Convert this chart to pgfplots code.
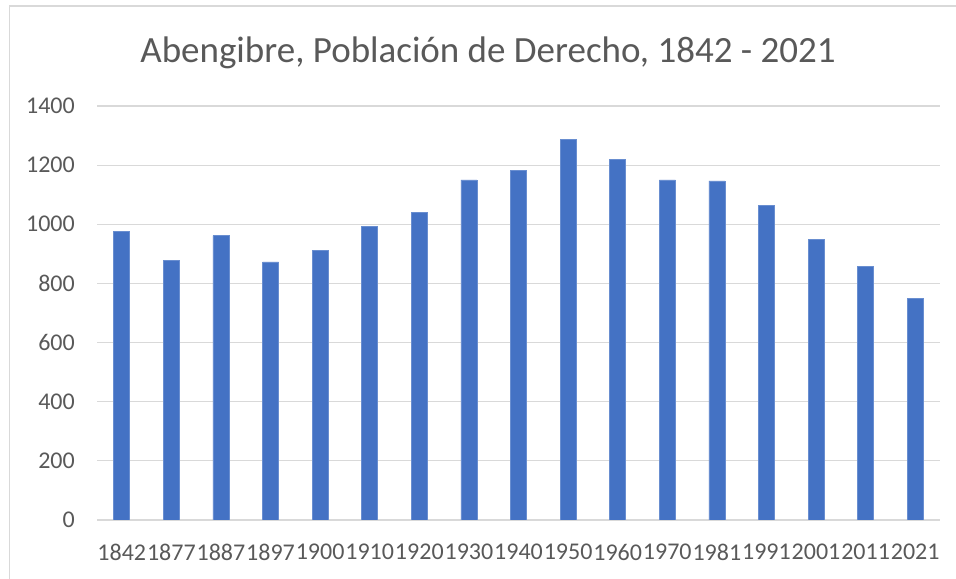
\documentclass[border=0pt]{standalone}
\usepackage{pgfplots}
\pgfplotsset{compat=1.18}
\usepackage{fontspec}
\setmainfont{Carlito}
\definecolor{barblue}{HTML}{4472C4}
\definecolor{txtgrey}{HTML}{595959}
\definecolor{gridgrey}{HTML}{D9D9D9}
\begin{document}
\begin{tikzpicture}
\useasboundingbox (0,0) rectangle (956bp,579bp);
\draw[gridgrey, line width=1.2bp] (9.5bp,0) -- (9.5bp,573bp) -- (956bp,573bp);
\node[anchor=base, text=txtgrey, inner sep=0, font=\fontsize{37bp}{44bp}\selectfont] at (488bp,516bp) {Abengibre, Población de Derecho, 1842 - 2021};
\begin{axis}[
  at={(97bp,59bp)}, anchor=south west,
  scale only axis, width=843bp, height=414bp,
  xmin=-0.5, xmax=16.5, ymin=0, ymax=1400,
  ytick={0,200,400,600,800,1000,1200,1400},
  xtick={0,...,16},
  xticklabels={1842,1877,1887,1897,1900,1910,1920,1930,1940,1950,1960,1970,1981,1991,2001,2011,2021},
  ymajorgrids, grid style={gridgrey, line width=1.2bp},
  axis line style={draw=none},
  major tick length=0,
  /pgf/number format/assume math mode=true,
  /pgf/number format/1000 sep={},
  yticklabel style={font=\fontsize{24bp}{28bp}\selectfont, text=txtgrey, anchor=east, inner sep=0, xshift=-22bp},
  xticklabel style={font=\fontsize{24bp}{28bp}\selectfont, text=txtgrey, anchor=north, inner sep=0, yshift=-24bp},
]
\addplot[ybar, bar width=16bp, fill=barblue, draw=barblue!80!white, line width=0.6bp] coordinates {
(0,976) (1,878) (2,962) (3,873) (4,911) (5,994) (6,1041) (7,1150) (8,1182)
(9,1286) (10,1219) (11,1150) (12,1147) (13,1064) (14,949) (15,857) (16,750)
};
\end{axis}
\end{tikzpicture}
\end{document}
